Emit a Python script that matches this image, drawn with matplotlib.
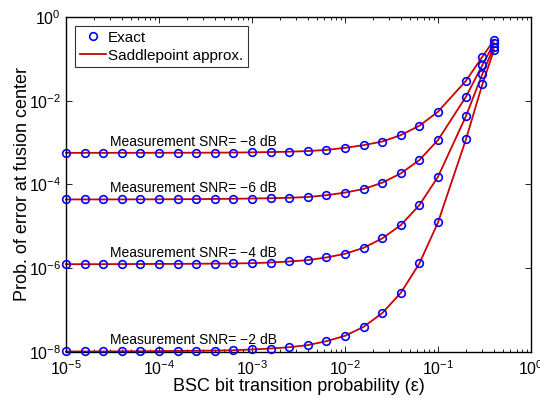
import matplotlib
matplotlib.use("Agg")
import matplotlib.pyplot as plt
from matplotlib.ticker import LogLocator, NullLocator, NullFormatter

plt.rcParams["font.family"] = ["Liberation Sans", "DejaVu Sans"]
plt.rcParams["mathtext.fontset"] = "custom"
plt.rcParams["mathtext.rm"] = "Liberation Sans"
plt.rcParams["mathtext.it"] = "Liberation Sans:italic"
plt.rcParams["mathtext.bf"] = "Liberation Sans:bold"

# BSC bit transition probability
eps = [1.000e-5, 1.585e-5, 2.512e-5, 3.981e-5, 6.310e-5,
       1.000e-4, 1.585e-4, 2.512e-4, 3.981e-4, 6.310e-4,
       1.000e-3, 1.585e-3, 2.512e-3, 3.981e-3, 6.310e-3,
       1.000e-2, 1.585e-2, 2.512e-2, 3.981e-2, 6.310e-2,
       1.000e-1, 0.2, 0.3, 0.4]

# probability of error at the fusion center, one list per measurement SNR
pe_m8 = [5.70e-4, 5.70e-4, 5.70e-4, 5.71e-4, 5.71e-4, 5.72e-4, 5.73e-4, 5.74e-4,
         5.76e-4, 5.79e-4, 5.85e-4, 5.94e-4, 6.07e-4, 6.28e-4, 6.70e-4, 7.50e-4,
         8.70e-4, 1.06e-3, 1.51e-3, 2.53e-3, 5.46e-3, 3.0e-2, 0.112, 0.28]
pe_m6 = [4.40e-5, 4.40e-5, 4.40e-5, 4.41e-5, 4.42e-5, 4.43e-5, 4.45e-5, 4.48e-5,
         4.52e-5, 4.56e-5, 4.62e-5, 4.70e-5, 4.82e-5, 5.02e-5, 5.55e-5, 6.40e-5,
         7.80e-5, 1.10e-4, 1.84e-4, 3.83e-4, 1.15e-3, 1.25e-2, 7.1e-2, 0.235]
pe_m4 = [1.25e-6, 1.25e-6, 1.25e-6, 1.26e-6, 1.26e-6, 1.27e-6, 1.27e-6, 1.28e-6,
         1.29e-6, 1.30e-6, 1.32e-6, 1.37e-6, 1.45e-6, 1.56e-6, 1.81e-6, 2.21e-6,
         3.07e-6, 5.15e-6, 1.07e-5, 3.22e-5, 1.53e-4, 4.3e-3, 4.35e-2, 0.195]
pe_m2 = [1.03e-8, 1.03e-8, 1.03e-8, 1.04e-8, 1.04e-8, 1.05e-8, 1.06e-8, 1.07e-8,
         1.08e-8, 1.10e-8, 1.15e-8, 1.21e-8, 1.30e-8, 1.46e-8, 1.81e-8, 2.43e-8,
         3.98e-8, 8.45e-8, 2.58e-7, 1.30e-6, 1.24e-5, 1.2e-3, 2.47e-2, 0.163]

series = [pe_m8, pe_m6, pe_m4, pe_m2]
snr_labels = ["Measurement SNR= \u22128 dB", "Measurement SNR= \u22126 dB",
              "Measurement SNR= \u22124 dB", "Measurement SNR= \u22122 dB"]

fig = plt.figure(figsize=(5.4, 3.98), dpi=100)
ax = fig.add_axes([0.1222, 0.1156, 0.8611, 0.8417])

for i, pe in enumerate(series):
    ax.plot(eps, pe, "o", color="#0000ff", mfc="none", ms=5.5, mew=1.2,
            clip_on=False, label="Exact" if i == 0 else None, zorder=3)
    ax.plot(eps, pe, "-", color="#cc0000", lw=1.3, clip_on=False,
            label="Saddlepoint approx." if i == 0 else None, zorder=2)
    ax.annotate(snr_labels[i], xy=(3.0e-5, pe[0]), xytext=(0, 8),
                textcoords="offset points", va="center", ha="left", fontsize=10)

ax.set_xscale("log")
ax.set_yscale("log")
ax.set_xlim(1e-5, 1)
ax.set_ylim(1e-8, 1)

ax.xaxis.set_major_locator(LogLocator(base=10, numticks=10))
ax.xaxis.set_minor_locator(LogLocator(base=10, subs=range(2, 10), numticks=20))
ax.xaxis.set_minor_formatter(NullFormatter())
ax.yaxis.set_major_locator(LogLocator(base=100, numticks=10))
ax.yaxis.set_minor_locator(NullLocator())

ax.tick_params(which="both", direction="in", top=True, right=True, labelsize=11.5)
ax.tick_params(which="major", length=4, width=0.6)
ax.tick_params(which="minor", length=2, width=0.6)
ax.tick_params(axis="x", which="major", pad=5)
for s in ax.spines.values():
    s.set_linewidth(1.0)

ax.set_xlabel("BSC bit transition probability (\u03b5)", fontsize=13, labelpad=0)
ax.set_ylabel("Prob. of error at fusion center", fontsize=13, labelpad=-1.5)

leg = ax.legend(loc="upper left", fontsize=11, frameon=True, fancybox=False,
                edgecolor="black", borderpad=0.3, handlelength=1.7,
                handletextpad=0.15, labelspacing=0.25, borderaxespad=0.6)
leg.get_frame().set_linewidth(0.8)

fig.savefig("out.png", dpi=100)
